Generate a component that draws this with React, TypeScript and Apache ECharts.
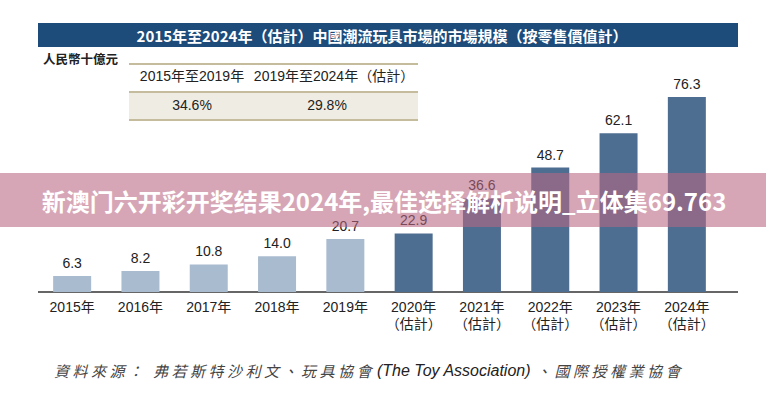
import React, { useEffect, useRef } from "react";
import * as echarts from "echarts";

const categories = ["2015年", "2016年", "2017年", "2018年", "2019年", "2020年\n（估計）", "2021年\n（估計）", "2022年\n（估計）", "2023年\n（估計）", "2024年\n（估計）"];
const values = [6.3, 8.2, 10.8, 14.0, 20.7, 22.9, 36.6, 48.7, 62.1, 76.3];
const isEstimate = [false, false, false, false, false, true, true, true, true, true];
const tableHeaders = ["2015年至2019年", "2019年至2024年（估計）"];
const tableValues = ["34.6%", "29.8%"];
const titleText = "2015年至2024年（估計）中國潮流玩具市場的市場規模（按零售價值計）";
const unitText = "人民幣十億元";
const sourceParts = ["資料來源：", "弗若斯特沙利文、玩具協會", "(The Toy Association)", "、國際授權業協會"];
const watermarkText = "新澳门六开彩开奖结果2024年,最佳选择解析说明_立体集69.763";

const FONT = "'Liberation Sans', Arial, 'Noto Sans CJK TC', sans-serif";
const CJK = "'Noto Sans CJK TC', 'Liberation Sans', sans-serif";

export default function App() {
  const ref = useRef<HTMLDivElement>(null);
  useEffect(() => {
    if (!ref.current) return;
    const chart = echarts.init(ref.current, null, { renderer: "svg" });
    const light = "#a9bbcf";
    const dark = "#4e6e91";
    chart.setOption({
      animation: false,
      backgroundColor: "#ffffff",
      grid: { left: 38, width: 683, top: 87.5, height: 204.5 },
      xAxis: {
        type: "category",
        data: categories,
        axisLine: { show: false },
        axisTick: { show: false },
        axisLabel: { color: "#222", fontSize: 14, fontFamily: FONT, margin: 6, lineHeight: 17, interval: 0 },
      },
      yAxis: { type: "value", min: 0, max: 80, show: false, splitLine: { show: false } },
      series: [
        {
          type: "bar",
          barWidth: 38,
          data: values.map((v, i) => ({ value: v, itemStyle: { color: isEstimate[i] ? dark : light } })),
          label: {
            show: true,
            position: "top",
            distance: 6,
            color: "#222",
            fontSize: 14,
            fontFamily: FONT,
            formatter: (p: any) => Number(p.value).toFixed(1),
          },
        },
      ],
      graphic: [
        { type: "rect", shape: { x: 38, y: 23, width: 700, height: 24 }, style: { fill: "#1d4b7a" } },
        { type: "text", x: 382, y: 35.5, style: { text: titleText, fill: "#fff", fontSize: 15, fontWeight: "bold", fontFamily: CJK, align: "center", verticalAlign: "middle" } },
        { type: "text", x: 43, y: 58, style: { text: unitText, fill: "#222", fontSize: 12.5, fontWeight: "bold", fontFamily: CJK, align: "left", verticalAlign: "middle" } },
        { type: "rect", shape: { x: 129, y: 92, width: 289, height: 27 }, style: { fill: "#efede3" } },
        { type: "line", shape: { x1: 129, y1: 64, x2: 418, y2: 64 }, style: { stroke: "#c4bc9c", lineWidth: 2 } },
        { type: "line", shape: { x1: 129, y1: 92, x2: 418, y2: 92 }, style: { stroke: "#c4bc9c", lineWidth: 2 } },
        { type: "line", shape: { x1: 129, y1: 120, x2: 418, y2: 120 }, style: { stroke: "#c4bc9c", lineWidth: 2 } },
        { type: "text", x: 192, y: 76, style: { text: tableHeaders[0], fill: "#222", fontSize: 14, fontFamily: FONT, align: "center", verticalAlign: "middle" } },
        { type: "text", x: 334, y: 76, style: { text: tableHeaders[1], fill: "#222", fontSize: 14, fontFamily: FONT, align: "center", verticalAlign: "middle" } },
        { type: "text", x: 192, y: 105, style: { text: tableValues[0], fill: "#222", fontSize: 14, fontFamily: FONT, align: "center", verticalAlign: "middle" } },
        { type: "text", x: 327, y: 105, style: { text: tableValues[1], fill: "#222", fontSize: 14, fontFamily: FONT, align: "center", verticalAlign: "middle" } },
        { type: "line", shape: { x1: 38, y1: 292, x2: 738, y2: 292 }, style: { stroke: "#333", lineWidth: 1.5 } },
        { type: "text", x: 54, y: 370, style: { text: sourceParts[0], fill: "#444", fontSize: 15, fontStyle: "italic", fontFamily: CJK, align: "left", verticalAlign: "middle" } },
        { type: "text", x: 153, y: 370, style: { text: sourceParts[1], fill: "#444", fontSize: 15, fontStyle: "italic", fontFamily: CJK, align: "left", verticalAlign: "middle" } },
        { type: "text", x: 377, y: 370, style: { text: sourceParts[2], fill: "#222", fontSize: 16, fontStyle: "oblique", fontFamily: FONT, align: "left", verticalAlign: "middle" } },
        { type: "text", x: 536, y: 370, style: { text: sourceParts[3], fill: "#444", fontSize: 15, fontStyle: "italic", fontFamily: CJK, align: "left", verticalAlign: "middle" } },
        { type: "rect", z: 100, shape: { x: 0, y: 173, width: 766, height: 54 }, style: { fill: "rgba(184,102,129,0.58)" } },
        { type: "text", z: 101, x: 384, y: 200, style: { text: watermarkText, fill: "#fff", fontSize: 24, fontWeight: "bold", fontFamily: "'Noto Sans CJK SC', 'Noto Sans', sans-serif", align: "center", verticalAlign: "middle" } },
      ],
    });
    return () => chart.dispose();
  }, []);
  return (
    <>
      <style>{`body{margin:0;} .chartbox text[style*="italic"]{letter-spacing:3.5px;}`}</style>
      <div className="chartbox" ref={ref} style={{ width: 766, height: 400 }} />
    </>
  );
}
